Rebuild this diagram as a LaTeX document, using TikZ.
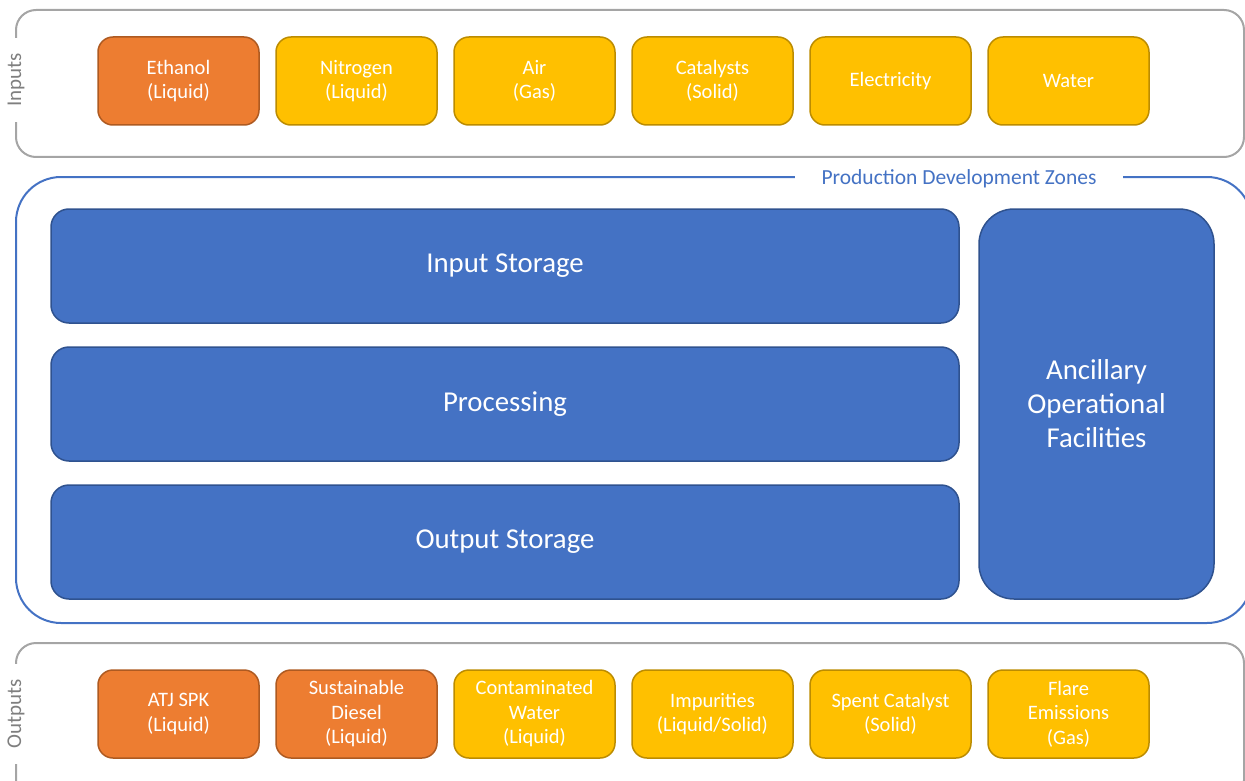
\documentclass[tikz,border=0pt]{standalone}
\usepackage{fontspec}
\setmainfont{Carlito}
\usepackage{xcolor}
\usetikzlibrary{positioning}

\definecolor{fuelorange}{HTML}{ED7D31}
\definecolor{fuelorangeline}{HTML}{AE5A21}
\definecolor{feedyellow}{HTML}{FFC000}
\definecolor{feedyellowline}{HTML}{BC8C00}
\definecolor{zoneblue}{HTML}{4472C4}
\definecolor{zoneblueline}{HTML}{2F528F}
\definecolor{framegray}{HTML}{A5A5A5}
\definecolor{labelgray}{HTML}{7F7F7F}

\begin{document}
\begin{tikzpicture}[
    x=1pt, y=-1pt,
    item/.style={rectangle, draw, line width=1.5pt, outer sep=0pt, rounded corners=15pt, minimum width=161pt, minimum height=88pt, align=center, text=white, font=\fontsize{20.5}{24.5}\selectfont},
    fuel/.style={item, fill=fuelorange, draw=fuelorangeline},
    feed/.style={item, fill=feedyellow, draw=feedyellowline},
    stage/.style={rectangle, draw=zoneblueline, fill=zoneblue, line width=1.5pt, outer sep=0pt, rounded corners=18pt, minimum width=908pt, minimum height=114pt, align=center, text=white, font=\fontsize{28.8}{34}\selectfont},
    frame/.style={draw=framegray, line width=2pt, rounded corners=20pt},
    zone/.style={draw=zoneblue, line width=2pt, rounded corners=45pt},
    sidelabel/.style={rotate=90, fill=white, text=labelgray, inner xsep=15pt, inner ysep=0pt, font=\fontsize{21}{24}\selectfont}
]
\useasboundingbox (0,0) rectangle (1245,781);

% Inputs row
\draw [frame] (16,10) rectangle (1244,157);
\node [sidelabel] (inlabel) at (16,80) {Inputs};

\node [fuel] (ethanol) at (178.5,81) {Ethanol\\(Liquid)};
\node [feed, right=17pt of ethanol] (nitrogen) {Nitrogen\\(Liquid)};
\node [feed, right=17pt of nitrogen] (air) {Air\\(Gas)};
\node [feed, right=17pt of air] (catalysts) {Catalysts\\(Solid)};
\node [feed, right=17pt of catalysts] (electricity) {Electricity};
\node [feed, right=17pt of electricity] (water) {Water};

% Production zones
\draw [zone] (16,177) rectangle (1252,623);
\node [fill=white, text=zoneblue, inner xsep=27pt, inner ysep=2pt, font=\fontsize{21.5}{25}\selectfont] (zonetitle) at (959,179) {Production Development Zones};

\node [stage] (instore) at (505,266) {Input Storage};
\node [stage, below=24pt of instore] (processing) {Processing};
\node [stage, below=24pt of processing] (outstore) {Output Storage};
\node [stage, rounded corners=35pt, minimum width=235pt, minimum height=390pt] (ancillary) at (1096.5,404) {Ancillary\\Operational\\Facilities};

% Outputs row
\draw [frame] (16,643) rectangle (1244,800);
\node [sidelabel] (outlabel) at (16,714) {Outputs};

\node [fuel] (atj) at (178.5,714) {ATJ SPK\\(Liquid)};
\node [fuel, right=17pt of atj] (diesel) {Sustainable\\Diesel\\(Liquid)};
\node [feed, right=17pt of diesel] (wastewater) {Contaminated\\Water\\(Liquid)};
\node [feed, right=17pt of wastewater] (impurities) {Impurities\\(Liquid/Solid)};
\node [feed, right=17pt of impurities] (spent) {Spent Catalyst\\(Solid)};
\node [feed, right=17pt of spent] (flare) {Flare\\Emissions\\(Gas)};

\end{tikzpicture}
\end{document}
